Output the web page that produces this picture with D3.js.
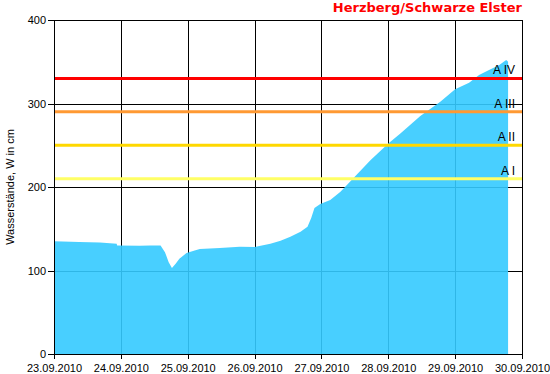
<!DOCTYPE html>
<html><head><meta charset="utf-8">
<script src="https://cdn.jsdelivr.net/npm/d3@7"></script>
<style>
body{margin:0;background:#fff;}
svg{display:block;font-family:"Liberation Sans",Arial,sans-serif;}
</style></head><body>
<svg id="c" width="550" height="374"></svg>
<script>
const title = "Herzberg/Schwarze Elster";
const yLabel = "Wasserstände, W in cm";
const xTickLabels = ["23.09.2010","24.09.2010","25.09.2010","26.09.2010","27.09.2010","28.09.2010","29.09.2010","30.09.2010"];
const yTicks = [0,100,200,300,400];
const times = [
 "2010-09-23T00:00","2010-09-23T09:00","2010-09-23T16:30","2010-09-23T22:30","2010-09-23T22:40",
 "2010-09-24T06:45","2010-09-24T10:30","2010-09-24T14:15","2010-09-24T15:50","2010-09-24T17:10",
 "2010-09-24T18:20","2010-09-24T19:40","2010-09-24T21:00","2010-09-24T23:35","2010-09-25T02:30",
 "2010-09-25T04:20","2010-09-25T11:30","2010-09-25T18:40","2010-09-26T00:00","2010-09-26T05:40",
 "2010-09-26T09:20","2010-09-26T12:50","2010-09-26T16:30","2010-09-26T19:00","2010-09-26T20:20",
 "2010-09-26T21:30","2010-09-26T23:35","2010-09-27T03:10","2010-09-27T06:50","2010-09-27T10:25",
 "2010-09-27T17:35","2010-09-28T00:00","2010-09-28T04:20","2010-09-28T11:30","2010-09-28T18:40",
 "2010-09-29T00:00","2010-09-29T05:00","2010-09-29T08:35","2010-09-29T12:10","2010-09-29T15:50",
 "2010-09-29T18:20","2010-09-29T19:00"
];
const levels = [
 135,134,133.5,132,130,
 129.5,130,130,122,110,
 103,108,114,121,124,
 125.7,127,128.5,128,132,
 135.7,140.5,146.5,152.5,163,
 175,179.6,184.4,194.4,207,
 232,252,264,285,302,
 317,325,334,340,346,
 352,350
];
const thresholdNames = ["A I","A II","A III","A IV"];
const thresholdValues = [210,250,290,330];
const thresholdColors = ["#ffff66","#ffd800","#ff9933","#ff0000"];

const parse = d3.timeParse("%Y-%m-%dT%H:%M");
const data = times.map((t,i)=>({t:parse(t), v:levels[i]}));
const svg = d3.select("#c");
const L=54, R=522, T=20, B=354;
const x = d3.scaleTime().domain([parse("2010-09-23T00:00"), parse("2010-09-30T00:00")]).range([L,R]);
const y = d3.scaleLinear().domain([0,400]).range([B,T]);
const dayTicks = d3.timeDay.range(parse("2010-09-23T00:00"), parse("2010-09-30T01:00"));

// grid
const g = svg.append("g").attr("shape-rendering","crispEdges");
g.selectAll(".vg").data(dayTicks).join("line")
 .attr("x1",d=>Math.round(x(d))+0.5).attr("x2",d=>Math.round(x(d))+0.5)
 .attr("y1",T).attr("y2",B).attr("stroke","#000");
g.selectAll(".hg").data(yTicks).join("line")
 .attr("x1",L).attr("x2",R+1).attr("y1",d=>Math.round(y(d))+0.5).attr("y2",d=>Math.round(y(d))+0.5).attr("stroke","#000");

// area
const area = d3.area().x(d=>x(d.t)).y0(y(0)).y1(d=>y(d.v)).curve(d3.curveLinear);
svg.append("path").datum(data).attr("d",area).attr("fill","rgb(52,202,255)").attr("fill-opacity",0.9);

// thresholds
svg.append("g").selectAll("line").data(thresholdValues).join("line")
 .attr("x1",L).attr("x2",R).attr("y1",d=>y(d)).attr("y2",d=>y(d))
 .attr("stroke",(d,i)=>thresholdColors[i]).attr("stroke-width",3);
svg.append("g").selectAll("text").data(thresholdValues).join("text")
 .attr("x",515).attr("y",d=>y(d)-4).attr("text-anchor","end")
 .attr("font-size","12px").attr("fill","#000").text((d,i)=>thresholdNames[i]);

// axes
const xAxis = d3.axisBottom(x).tickValues(dayTicks).tickSize(5).tickPadding(5).tickFormat((d,i)=>xTickLabels[i]);
const xa = svg.append("g").attr("transform",`translate(0,${B})`).call(xAxis);
xa.select(".domain").remove();
xa.append("line").attr("x1",L).attr("x2",R+1).attr("y1",0.5).attr("y2",0.5).attr("stroke","#000").attr("shape-rendering","crispEdges");
xa.selectAll("text").attr("font-size","11px").attr("font-family","Liberation Sans, Arial, sans-serif").attr("fill","#000");
xa.selectAll(".tick line").attr("shape-rendering","crispEdges");

const yAxis = d3.axisLeft(y).tickValues(yTicks).tickSize(6).tickPadding(2);
const ya = svg.append("g").attr("transform",`translate(${L},0)`).call(yAxis);
ya.select(".domain").remove();
ya.append("line").attr("x1",0.5).attr("x2",0.5).attr("y1",T).attr("y2",B+1).attr("stroke","#000").attr("shape-rendering","crispEdges");
ya.selectAll("text").attr("font-size","11px").attr("font-family","Liberation Sans, Arial, sans-serif").attr("fill","#000");
ya.selectAll(".tick line").attr("shape-rendering","crispEdges");

// y label
svg.append("text").attr("transform",`translate(10,${(T+B)/2}) rotate(-90)`)
 .attr("text-anchor","middle").attr("dy","0.35em").attr("font-size","11px").text(yLabel);

// title
svg.append("text").attr("x",R).attr("y",12).attr("text-anchor","end")
 .attr("font-family","DejaVu Sans, Verdana, sans-serif")
 .attr("font-size","13px").attr("font-weight","bold").attr("fill","#ff0000").text(title);
</script>
</body></html>
